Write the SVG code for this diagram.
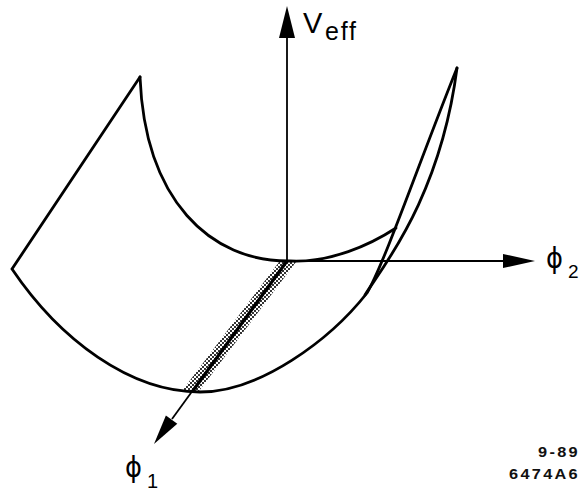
<svg xmlns="http://www.w3.org/2000/svg" width="585" height="492" viewBox="0 0 585 492">
<style>
.curve{fill:none;stroke:#000;stroke-width:2.8;stroke-linejoin:miter;stroke-linecap:round}
.axis{fill:none;stroke:#000;stroke-width:1.8}
.head{fill:#000;stroke:none}
.lbl{font-family:"Liberation Sans",Arial,"DejaVu Sans",sans-serif;fill:#000}
.phi{font-family:"DejaVu Sans","Liberation Sans",sans-serif;fill:#000}
.code{font-family:"Liberation Sans",Arial,sans-serif;font-size:14px;font-weight:bold;letter-spacing:2px;fill:#111}
</style>
<defs>
<pattern id="stip" patternUnits="userSpaceOnUse" x="0" y="0" width="4" height="4">
<rect x="0" y="0" width="2" height="2" fill="#333"/>
<rect x="2" y="2" width="2" height="2" fill="#333"/>
</pattern>
</defs>
<rect width="585" height="492" fill="#fff"/>
<g id="band">
<polygon points="279,262 296,262 199,391 182,391" fill="url(#stip)"/>
</g>
<g id="surface">
<path class="curve" d="M140,77 L12,269 C60,340 130,392 200,392 C260,392 330,340 367,293 C385,262 420,160 457,68"/>
<path class="curve" d="M140,77 C145,200 210,262 290,261 C330,263 370,245 396,228"/>
<path class="curve" d="M365,295 C380,270 440,200 457,68"/>
</g>
<g id="connectors">
<line class="axis" x1="287" y1="261" x2="287" y2="30"/>
<polygon class="head" points="287,6 279,38 295,38"/>
<line class="axis" x1="287" y1="261" x2="510" y2="261"/>
<polygon class="head" points="535,261 503,254 503,268"/>
<line class="axis" x1="287" y1="261" x2="172" y2="419"/>
<line x1="287" y1="261" x2="192" y2="392" stroke="#000" stroke-width="3.2"/>
<polygon class="head" points="154,444 165.9,415.6 177.3,423.8"/>
</g>
<g id="labels">
<text class="lbl" x="303" y="33" font-size="29">V</text>
<text class="lbl" x="325" y="40" font-size="25" textLength="31" lengthAdjust="spacing">eff</text>
<text class="phi" x="546" y="268" font-size="29" textLength="17" lengthAdjust="spacingAndGlyphs">ϕ</text>
<text class="lbl" x="568" y="278" font-size="19">2</text>
<text class="phi" x="125" y="477" font-size="29" textLength="17" lengthAdjust="spacingAndGlyphs">ϕ</text>
<text class="lbl" x="147" y="488" font-size="20">1</text>
<text class="code" x="538" y="457" textLength="42" lengthAdjust="spacingAndGlyphs">9-89</text>
<text class="code" x="509" y="479" textLength="71" lengthAdjust="spacingAndGlyphs">6474A6</text>
</g>
</svg>
